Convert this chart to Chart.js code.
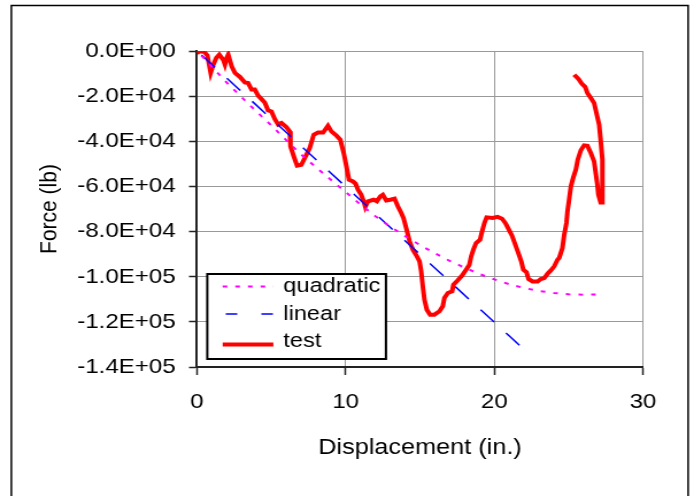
<!DOCTYPE html>
<html>
<head>
<meta charset="utf-8">
<script src="https://cdn.jsdelivr.net/npm/chart.js@4.4.1/dist/chart.umd.min.js"></script>
<style>
  html, body { margin: 0; padding: 0; background: #fff; overflow: hidden; }
  /* the original picture is stretched sideways, so the whole chart is too */
  #wrap { width: 604px; height: 496px; transform: scaleX(1.149); transform-origin: 0 0; }
</style>
</head>
<body>
<div id="wrap"><canvas id="c" width="604" height="496"></canvas></div>
<script>
// test curve
const testX = [0.0, 0.2, 0.5, 0.7, 0.92, 1.1, 1.3, 1.5, 1.77, 1.88, 2.0, 2.1, 2.33, 2.55, 2.89, 3.22, 3.44, 3.67, 3.89, 4.11,
  4.34, 4.56, 4.78, 5.01, 5.23, 5.46, 5.68, 6.01, 6.24, 6.29, 6.51, 6.73, 7.02, 7.25, 7.58, 7.85, 8.14, 8.48, 8.81, 9.04,
  9.38, 9.64, 9.87, 10.05, 10.22, 10.49, 10.67, 10.83, 11.05, 11.21, 11.32, 11.5, 11.88, 12.1, 12.33, 12.5, 12.73, 13.0, 13.29, 13.51,
  13.74, 13.89, 14.07, 14.3, 14.52, 14.79, 14.97, 15.08, 15.19, 15.3, 15.46, 15.68, 15.97, 16.31, 16.53, 16.64, 16.87, 17.16, 17.25, 17.54,
  17.83, 18.1, 18.32, 18.44, 18.59, 18.77, 19.04, 19.15, 19.33, 19.48, 19.89, 20.22, 20.52, 20.74, 20.96, 21.19, 21.41, 21.63, 21.83, 21.95,
  22.17, 22.3, 22.57, 22.91, 23.13, 23.36, 23.58, 23.8, 24.03, 24.25, 24.36, 24.58, 24.7, 24.85, 24.92, 25.03, 25.15, 25.3, 25.48, 25.61,
  25.82, 26.04, 26.26, 26.49, 26.71, 26.82, 26.93, 27.0, 27.15, 27.27, 27.27, 27.27, 27.15, 27.05, 26.87, 26.71, 26.49, 26.26, 26.11, 25.89,
  25.66, 25.37];
const testY = [-1000, 0, -500, -2000, -9700, -6000, -3000, -1600, -3900, -6000, -3000, -1600, -6800, -9700, -11500, -13900, -14200, -17100, -17100, -19800,
  -21300, -22800, -26300, -26800, -30100, -32600, -31900, -33700, -35600, -42300, -46700, -50800, -50400, -47400, -43000, -37100, -36100, -36100, -33100, -35600,
  -37500, -39300, -45200, -51100, -57000, -57800, -58800, -61400, -63700, -66600, -69100, -66600, -65900, -66600, -64400, -63700, -66200, -65900, -65400, -68800,
  -71800, -74000, -78400, -84300, -88000, -91000, -93200, -97600, -104300, -110200, -114600, -116800, -116800, -115300, -113100, -109400, -107200, -106500, -103500, -101600,
  -99500, -96900, -94700, -91000, -88000, -85100, -83600, -80600, -76200, -73700, -74000, -73500, -74300, -76200, -78900, -81800, -85800, -89800, -93600, -96900,
  -98100, -101000, -102100, -102100, -101000, -100600, -98700, -97200, -95400, -92500, -91700, -87300, -81400, -76200, -71100, -65900, -60000, -56300, -52600, -48200,
  -44000, -41800, -42000, -45200, -48900, -54000, -59200, -63700, -67100, -67100, -60000, -48200, -39300, -32600, -27500, -23000, -20800, -18600, -15900, -14500,
  -12400, -10500];

// quadratic fit
const quadX = [0.3, 1, 2, 3, 4, 5, 6, 7, 8, 9, 10, 11, 12, 13, 14, 15, 16, 17, 18, 19, 20, 21, 22, 23, 24, 25, 26, 27.3];
const quadY = [-2000, -7000, -14000, -20500, -26800, -33000, -39500, -45800, -51500, -57000, -62500, -68000, -73200, -77800,
  -82000, -86000, -89600, -93000, -96000, -98800, -101200, -103300, -105000, -106300, -107200, -107800, -108000, -107800];

// linear fit
const linearX = [0.3, 22.2];
const linearY = [-1800, -133400];

const yTickLabels = ['0.0E+00', '-2.0E+04', '-4.0E+04', '-6.0E+04', '-8.0E+04', '-1.0E+05', '-1.2E+05', '-1.4E+05'];
const xTickLabels = ['0', '10', '20', '30'];

const FONT = "'Liberation Sans', Arial, sans-serif";

function pts(xs, ys) { return xs.map((x, i) => ({x: x, y: ys[i]})); }

// outer frame of the picture
const framePlugin = {
  id: 'frame',
  afterDraw(chart) {
    const ctx = chart.ctx;
    ctx.save();
    ctx.strokeStyle = '#000';
    ctx.lineWidth = 1.5;
    ctx.strokeRect(9.9, 5.5, 589, 520);
    ctx.restore();
  }
};

// boxed legend inside the plot, as in the original
const boxLegend = {
  id: 'boxLegend',
  afterDraw(chart) {
    const ctx = chart.ctx;
    ctx.save();
    ctx.fillStyle = '#fff';
    ctx.fillRect(180.4, 274, 155.5, 85);
    ctx.strokeStyle = '#000';
    ctx.lineWidth = 2;
    ctx.strokeRect(180.4, 274, 155.5, 85);
    const rows = [
      {ds: 0, ly: 286.5, ty: 292, dash: [4, 7]},
      {ds: 1, ly: 314, ty: 319.5, dash: [10, 21]},
      {ds: 2, ly: 344.5, ty: 347, dash: []}
    ];
    ctx.font = '20.5px ' + FONT;
    ctx.textBaseline = 'alphabetic';
    rows.forEach(r => {
      const d = chart.data.datasets[r.ds];
      ctx.beginPath();
      ctx.setLineDash(r.dash);
      ctx.strokeStyle = d.borderColor;
      ctx.lineWidth = d.borderWidth;
      ctx.moveTo(r.ds === 1 ? 196.5 : 193.8, r.ly);
      ctx.lineTo(237.9, r.ly);
      ctx.stroke();
      ctx.setLineDash([]);
      ctx.fillStyle = '#000';
      ctx.fillText(d.label, 246.6, r.ty);
    });
    ctx.restore();
  }
};

new Chart(document.getElementById('c'), {
  type: 'scatter',
  data: {
    datasets: [
      {label: 'quadratic', data: pts(quadX, quadY), showLine: true, borderColor: '#FF00FF', borderWidth: 2,
       borderDash: [4, 7], pointRadius: 0, fill: false},
      {label: 'linear', data: pts(linearX, linearY), showLine: true, borderColor: '#0000FF', borderWidth: 1.5,
       borderDash: [17, 15], pointRadius: 0, fill: false},
      {label: 'test', data: pts(testX, testY), showLine: true, borderColor: '#FF0000', borderWidth: 4,
       pointRadius: 0, fill: false, tension: 0}
    ]
  },
  options: {
    responsive: false,
    animation: false,
    devicePixelRatio: 1,
    layout: { padding: { left: 0, right: 44.4, top: 51, bottom: 20 } },
    plugins: { legend: { display: false }, tooltip: { enabled: false } },
    scales: {
      x: {
        type: 'linear',
        min: 0, max: 30,
        afterFit: s => { s.height = 109; },
        grid: { color: '#999', lineWidth: 1, tickColor: '#222', tickLength: 8, tickWidth: 1.5 },
        border: { color: '#222', width: 2 },
        ticks: {
          stepSize: 10, padding: 15, color: '#000', font: { family: FONT, size: 21 },
          callback: v => xTickLabels[Math.round(v / 10)]
        },
        title: { display: true, text: 'Displacement (in.)', color: '#000',
                 font: { family: FONT, size: 22 }, padding: { top: 0, bottom: 15.3 } }
      },
      y: {
        type: 'linear',
        min: -140000, max: 0,
        afterFit: s => { s.width = 171.45; },
        grid: { color: '#999', lineWidth: 1, tickColor: '#222', tickLength: 7, tickWidth: 1.5 },
        border: { color: '#222', width: 2 },
        ticks: {
          stepSize: 20000, padding: 11.5, color: '#000', font: { family: FONT, size: 21 },
          callback: v => yTickLabels[Math.round(-v / 20000)]
        },
        title: { display: true, text: 'Force (lb)', color: '#000',
                 font: { family: FONT, size: 21 }, padding: { top: 30.9, bottom: 0 } }
      }
    }
  },
  plugins: [framePlugin, boxLegend]
});
</script>
</body>
</html>
